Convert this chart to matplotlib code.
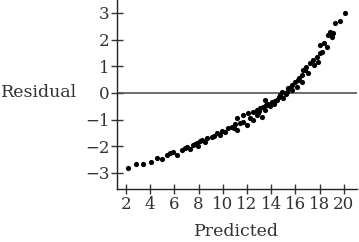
import numpy as np
import matplotlib.pyplot as plt
from matplotlib.transforms import blended_transform_factory

# ---- data ----
predicted = [2.2, 2.8, 3.4, 4.1, 4.6, 5.0, 5.4, 5.6, 5.9, 6.2,
             6.6, 7.0, 7.3, 7.5, 7.85, 7.95, 8.3, 8.5, 8.7, 9.1,
             9.5, 9.75, 10.2, 10.4, 10.75, 11.2, 11.4, 11.7, 12.0, 12.25,
             12.5, 12.8, 13.2, 13.5, 13.6, 11.2, 11.7, 12.1, 12.5, 12.8,
             13.1, 13.3, 13.5, 13.7, 14.1, 14.5, 15.0, 14.7, 14.9, 15.3,
             15.7, 15.4, 16.1, 15.7, 15.95, 16.5, 16.2, 16.5, 17.0, 16.6,
             16.9, 17.2, 17.85, 17.45, 17.8, 18.0, 18.0, 18.6, 18.35, 18.7,
             19.1, 18.85, 19.3, 19.7, 20.08, 6.9, 8.1, 9.3, 10.9, 12.9,
             13.9, 14.3, 14.6, 15.2, 15.5, 16.3, 16.8, 17.5, 18.2, 19.0,
             7.7, 9.9, 11.0, 13.0, 14.2]
residual = [-2.81, -2.66, -2.66, -2.58, -2.44, -2.48, -2.32, -2.25, -2.2, -2.32,
            -2.14, -2.02, -2.1, -1.95, -1.87, -2.0, -1.76, -1.83, -1.69, -1.65,
            -1.5, -1.57, -1.46, -1.31, -1.27, -1.38, -1.12, -1.09, -1.2, -0.94,
            -1.01, -0.82, -0.9, -0.64, -0.45, -0.94, -0.82, -0.75, -0.71, -0.64,
            -0.56, -0.52, -0.26, -0.4, -0.34, -0.26, -0.2, -0.07, 0.04, 0.04,
            0.11, 0.19, 0.22, 0.3, 0.41, 0.41, 0.49, 0.67, 0.75, 0.86,
            0.97, 1.12, 1.17, 1.24, 1.35, 1.5, 1.8, 1.73, 1.87, 2.17,
            2.25, 2.3, 2.6, 2.7, 3.0, -2.08, -1.8, -1.6, -1.3, -0.75,
            -0.5, -0.3, -0.15, -0.05, 0.2, 0.55, 0.85, 1.05, 1.55, 2.1,
            -1.92, -1.42, -1.18, -0.68, -0.42]
x_ticks = list(range(2, 21, 2))
y_ticks = [-3, -2, -1, 0, 1, 2, 3]

# ---- style ----
plt.rcParams['font.family'] = ['DejaVu Serif']
plt.rcParams['axes.unicode_minus'] = True

fig = plt.figure(figsize=(3.59, 2.42), dpi=100)
ax = fig.add_axes([0.326, 0.219, 0.668, 0.781])

ax.scatter(predicted, residual, s=14, color='black', linewidths=0, zorder=3)
ax.axhline(0, color='#555555', lw=1.2, zorder=2)

ax.set_xlim(1.26, 21.07)
ax.set_ylim(-3.6, 3.48)
ax.set_xticks(x_ticks)
ax.set_yticks(y_ticks)

for s in ['top', 'right']:
    ax.spines[s].set_visible(False)
for s in ['left', 'bottom']:
    ax.spines[s].set_color('#222222')
    ax.spines[s].set_linewidth(1.0)

ax.tick_params(axis='y', direction='inout', length=8.5, width=1.0,
               labelsize=12, colors='#333333', pad=1)
ax.tick_params(axis='x', direction='inout', length=7, width=1.0,
               labelsize=12, colors='#333333', pad=1.5)

ax.set_xlabel('Predicted', fontsize=12.5, color='#333333', labelpad=7)
tr = blended_transform_factory(ax.transAxes, ax.transData)
ax.text(-0.167, 0, 'Residual', transform=tr, ha='right', va='center',
        fontsize=12.5, color='#333333')

fig.savefig('out.png', dpi=100)
